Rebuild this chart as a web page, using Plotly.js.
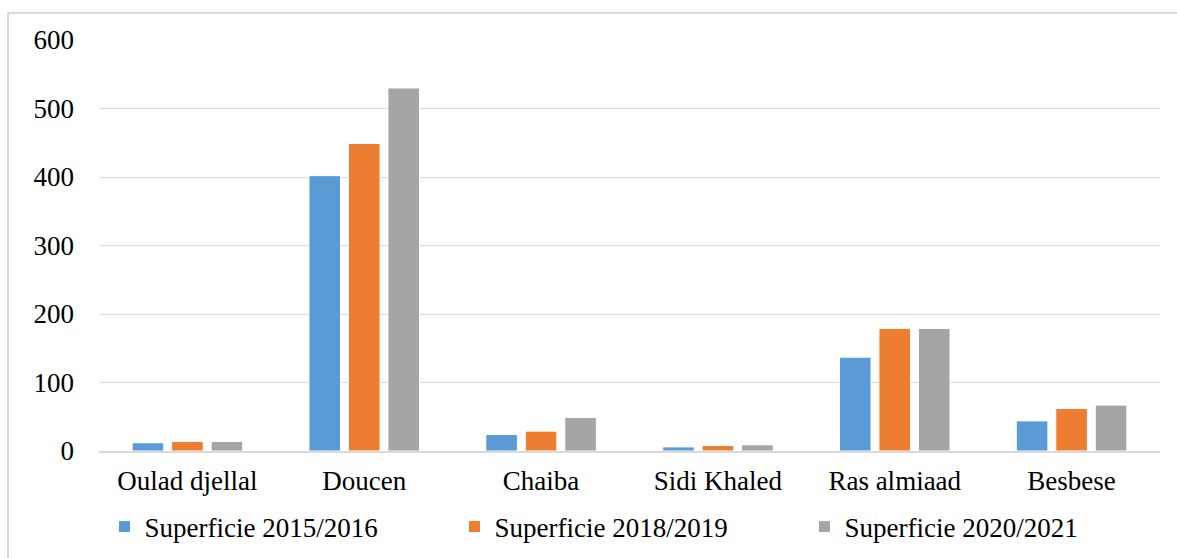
<!DOCTYPE html>
<html>
<head>
<meta charset="utf-8">
<script src="https://cdn.plot.ly/plotly-3.0.1.min.js"></script>
<style>
  html, body { margin: 0; padding: 0; background: #fff; overflow: hidden; }
  #wrap { position: relative; width: 1177px; height: 558px; overflow: hidden; }
  #chart { width: 1177px; height: 558px; }
  #frame { position: absolute; left: 7px; top: 12px; width: 1180px; height: 560px; border-left: 2px solid #d9d9d9; border-top: 2px solid #d9d9d9; pointer-events: none; }
</style>
</head>
<body>
<div id="wrap">
  <div id="chart"></div>
  <div id="frame"></div>
</div>
<script>
const categories = ["Oulad djellal", "Doucen", "Chaiba", "Sidi Khaled", "Ras almiaad", "Besbese"];
const seriesNames = ["Superficie 2015/2016", "Superficie 2018/2019", "Superficie 2020/2021"];
const values2015 = [12, 402, 24, 6, 137, 44];
const values2018 = [14, 449, 29, 8, 179, 62];
const values2020 = [14, 530, 49, 9, 179, 67];
const colors = ["#5b9bd5", "#ed7d31", "#a5a5a5"];
const yTicks = [0, 100, 200, 300, 400, 500, 600];

const allValues = [values2015, values2018, values2020];
const traces = allValues.map((v, i) => ({
  type: "bar",
  name: seriesNames[i],
  x: categories,
  y: v,
  marker: { color: colors[i], line: { color: "#ffffff", width: 1 } },
  hoverinfo: "skip"
}));

const font = { family: "Liberation Serif, Times New Roman, serif", size: 27, color: "#000" };

const layout = {
  width: 1177,
  height: 558,
  margin: { l: 99, r: 17, t: 40, b: 107, autoexpand: false },
  paper_bgcolor: "#fff",
  plot_bgcolor: "#fff",
  font: font,
  barmode: "group",
  bargap: 0.33,
  bargroupgap: 0.2,
  showlegend: true,
  legend: {
    orientation: "h",
    x: 0.5, xanchor: "center",
    y: -0.185, yanchor: "middle",
    bgcolor: "rgba(0,0,0,0)",
    font: font,
    itemwidth: 30,
    entrywidth: 305,
    traceorder: "normal"
  },
  xaxis: {
    type: "category",
    showgrid: false,
    showline: true,
    linecolor: "#d9d9d9",
    linewidth: 2,
    ticks: "",
    tickfont: font,
    ticklabelstandoff: 5
  },
  yaxis: {
    range: [0, 600],
    tickvals: yTicks,
    ticktext: yTicks.map(String),
    showgrid: true,
    gridcolor: "#d9d9d9",
    gridwidth: 1,
    zeroline: false,
    showline: false,
    ticks: "",
    tickfont: font,
    ticklabelstandoff: 24
  }
};

Plotly.newPlot("chart", traces, layout, { staticPlot: true, displayModeBar: false });
</script>
</body>
</html>
